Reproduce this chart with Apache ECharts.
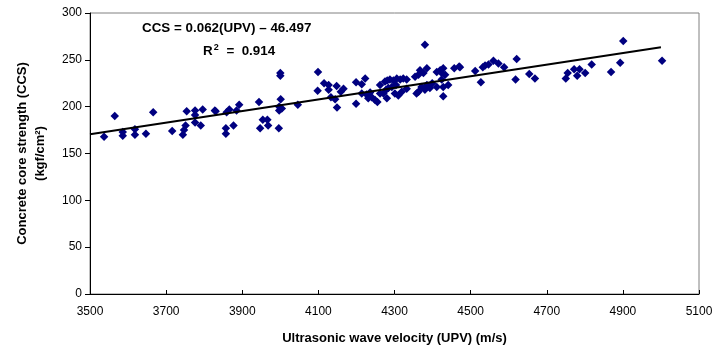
<!DOCTYPE html>
<html>
<head>
<meta charset="utf-8">
<script src="https://cdn.jsdelivr.net/npm/echarts@6/dist/echarts.min.js"></script>
<style>
html,body{margin:0;padding:0;background:#fff;}
#chart{width:728px;height:352px;}
</style>
</head>
<body>
<div id="chart"></div>
<script>
// UPV (m/s) values of the measured samples
const upv = [
  3537,3565,3586,3586,3618,3618,3647,3666,3716,3747,3744,3751,3754,3776,3776,3776,3791,3796,3828,3830,
  3857,3857,3859,3866,3877,3885,3892,3944,3947,3954,3966,3968,3996,4000,4000,4001,3997,4004,3997,4046,
  4099,4098,4115,4127,4127,4133,4144,4149,4148,4159,4166,4199,4223,4214,4199,4214,4227,4231,4236,4240,
  4249,4255,4262,4275,4281,4288,4278,4284,4271,4262,4280,4297,4306,4315,4323,4332,4301,4310,4319,4332,
  4293,4304,4358,4363,4354,4363,4367,4385,4376,4371,4385,4380,4393,4411,4420,4428,4424,4433,4399,4411,
  4424,4428,4441,4428,4457,4470,4380,4472,4512,4527,4532,4538,4547,4560,4573,4588,4621,4618,4654,4669,
  4750,4755,4772,4780,4786,4801,4818,4869,4893,4901,5003
];
// CCS (kgf/cm2) values of the same samples
const ccs = [
  168,190,173,169,176,170,171,194,174,175,170,180,195,196,191,183,180,197,196,195,
  177,171,194,197,180,196,202,205,177,186,186,180,177,236,233,208,200,198,196,202,
  237,217,225,223,218,210,208,199,222,216,219,226,230,224,203,214,213,209,215,210,
  207,205,223,227,228,229,218,220,214,214,209,228,230,229,230,229,214,212,216,219,
  221,223,214,216,232,234,239,241,236,221,223,218,220,237,239,241,236,234,225,221,
  229,221,223,211,241,243,266,242,238,226,242,244,245,249,246,242,251,229,235,230,
  230,236,240,233,240,236,245,237,247,270,249
];
// Regression: CCS = 0.062(UPV) - 46.497
const fitSlope = 0.062;
const fitIntercept = -46.497;
const fitRange = [3500, 5000];

const xTicks = {min: 3500, max: 5100, step: 200};
const yTicks = {min: 0, max: 300, step: 50};

const scatterData = upv.map((v, i) => [v, ccs[i]]);
const lineData = fitRange.map(x => [x, fitSlope * x + fitIntercept]);

const FONT = '"Liberation Sans", Arial, sans-serif';
const chart = echarts.init(document.getElementById('chart'), null, {renderer: 'canvas'});
chart.setOption({
  animation: false,
  backgroundColor: '#fff',
  grid: {left: 90, right: 29, top: 13, bottom: 58, show: true, borderColor: '#808080', borderWidth: 1, backgroundColor: 'transparent'},
  xAxis: {
    type: 'value', min: xTicks.min, max: xTicks.max, interval: xTicks.step,
    axisLine: {show: true, onZero: false, lineStyle: {color: '#000', width: 1}},
    axisTick: {show: true, inside: true, length: 4, lineStyle: {color: '#000'}},
    axisLabel: {color: '#000', fontSize: 12, fontFamily: FONT, margin: 12, formatter: v => String(v)},
    splitLine: {show: false},
    name: 'Ultrasonic wave velocity (UPV) (m/s)', nameLocation: 'middle', nameGap: 38,
    nameTextStyle: {color: '#000', fontSize: 13, fontWeight: 'bold', fontFamily: FONT}
  },
  yAxis: {
    type: 'value', min: yTicks.min, max: yTicks.max, interval: yTicks.step,
    axisLine: {show: true, lineStyle: {color: '#000', width: 1}},
    axisTick: {show: true, inside: false, length: 5, lineStyle: {color: '#000'}},
    axisLabel: {color: '#000', fontSize: 12, fontFamily: FONT, margin: 8},
    splitLine: {show: false},
    name: 'Concrete core strength (CCS)\n(kgf/cm²)', nameLocation: 'middle', nameGap: 41, nameRotate: 90,
    nameTextStyle: {color: '#000', fontSize: 13, fontWeight: 'bold', fontFamily: FONT, lineHeight: 18}
  },
  graphic: [
    {type: 'text', left: 142, top: 22, style: {text: 'CCS = 0.062(UPV) – 46.497', fill: '#000', font: 'bold 13.4px ' + FONT}},
    {type: 'text', left: 203, top: 43, style: {
      text: 'R{s|2} =  0.914', fill: '#000', font: 'bold 13.4px ' + FONT,
      rich: {s: {fontSize: 9, fontWeight: 'bold', fontFamily: FONT, verticalAlign: 'top', padding: [0, 4, 7, 1]}}
    }}
  ],
  series: [
    {type: 'scatter', data: scatterData, symbol: 'diamond', symbolSize: 8.5, itemStyle: {color: '#000080', opacity: 1}, z: 3},
    {type: 'line', data: lineData, symbol: 'none', lineStyle: {color: '#000', width: 2}, z: 4}
  ]
});
</script>
</body>
</html>
